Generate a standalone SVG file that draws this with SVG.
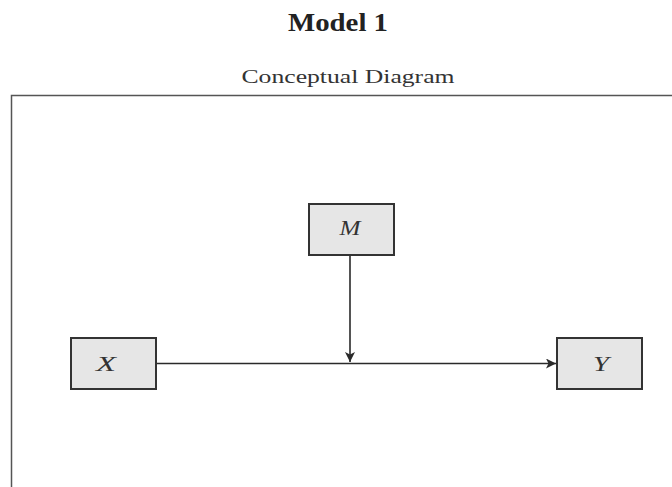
<svg xmlns="http://www.w3.org/2000/svg" width="672" height="487" viewBox="0 0 672 487">
  <style>
    .box { fill: #e6e6e6; stroke: #333; stroke-width: 2; }
    .lbl { font-family: "Liberation Serif", "Times New Roman", serif; font-style: italic; font-size: 21px; fill: #333; text-anchor: middle; }
    .edge { stroke: #2a2a2a; stroke-width: 1.6; fill: none; }
  </style>
  <defs>
    <marker id="arr" viewBox="0 0 10 10" refX="10" refY="5" markerWidth="10" markerHeight="10" markerUnits="userSpaceOnUse" orient="auto">
      <path d="M0,0 L10,5 L0,10 L2.5,5 Z" fill="#2a2a2a"/>
    </marker>
  </defs>
  <rect width="672" height="487" fill="#fff"/>
  <text x="338" y="31" font-family="Liberation Serif, Times New Roman, serif" font-weight="bold" font-size="25" fill="#222" text-anchor="middle" textLength="100" lengthAdjust="spacingAndGlyphs">Model 1</text>
  <text x="348" y="83" font-family="Liberation Serif, Times New Roman, serif" font-size="19" fill="#333" text-anchor="middle" textLength="213" lengthAdjust="spacingAndGlyphs">Conceptual Diagram</text>
  <path d="M11.5,487 V95.5 H672" fill="none" stroke="#555" stroke-width="1.5"/>
  <g id="connectors">
    <line class="edge" x1="156" y1="363.5" x2="556" y2="363.5" marker-end="url(#arr)"/>
    <line class="edge" x1="350" y1="255" x2="350" y2="362" marker-end="url(#arr)"/>
  </g>
  <g id="M">
    <rect class="box" x="309" y="204" width="85" height="51"/>
    <text class="lbl" x="350" y="235" textLength="21" lengthAdjust="spacingAndGlyphs">M</text>
  </g>
  <g id="X">
    <rect class="box" x="71" y="338" width="85" height="51"/>
    <text class="lbl" x="106" y="371" textLength="20" lengthAdjust="spacingAndGlyphs">X</text>
  </g>
  <g id="Y">
    <rect class="box" x="557" y="338" width="85" height="51"/>
    <text class="lbl" x="601" y="371" textLength="16" lengthAdjust="spacingAndGlyphs">Y</text>
  </g>
</svg>
